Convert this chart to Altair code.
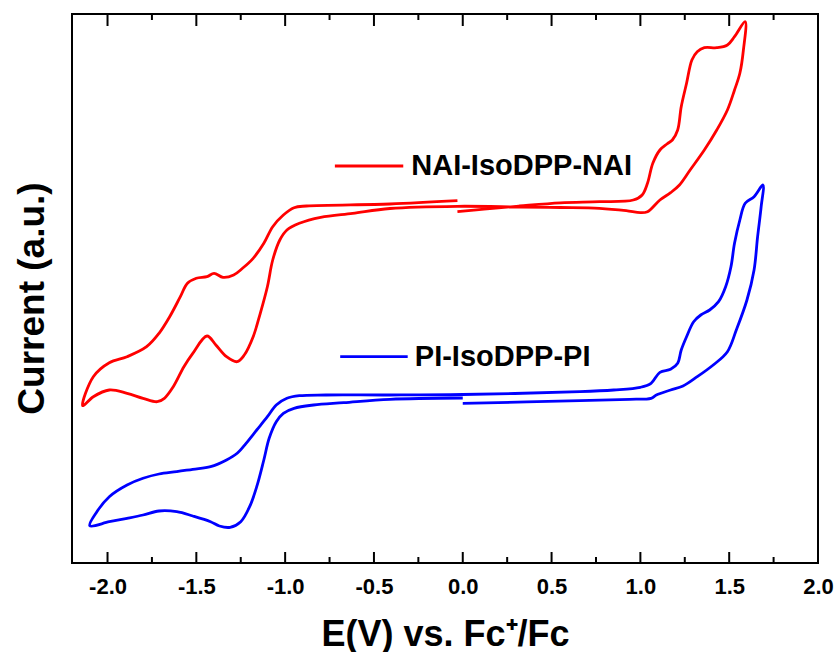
import altair as alt
import pandas as pd

# ---- data (E in V vs Fc+/Fc, current in a.u.) ----
red_E = [-0.03, 0.12, 0.32, 0.55, 0.77, 0.96, 1.01, 1.04, 1.07, 1.11, 1.15, 1.18, 1.21, 1.23,
         1.26, 1.29, 1.32, 1.36, 1.43, 1.49, 1.53, 1.59,
         1.58, 1.56, 1.53, 1.49, 1.43, 1.36, 1.28, 1.22, 1.17, 1.11, 1.04, 1.00, 0.92, 0.77,
         0.55, 0.32, -0.03, -0.41, -0.62, -0.80, -0.92, -0.99, -1.03, -1.07, -1.10, -1.14,
         -1.18, -1.23, -1.27, -1.33, -1.39, -1.44, -1.52, -1.57, -1.63, -1.68, -1.72, -1.80,
         -1.89, -1.99, -2.08, -2.14,
         -2.08, -1.99, -1.89, -1.78, -1.71, -1.65, -1.59, -1.55, -1.50, -1.44, -1.40, -1.35,
         -1.29, -1.24, -1.18, -1.12, -1.07, -1.01, -0.95, -0.88, -0.41, -0.03]
red_I = [3.513, 3.538, 3.57, 3.602, 3.613, 3.63, 3.68, 3.797, 3.997, 4.13, 4.19, 4.23, 4.33, 4.563,
         4.797, 5.03, 5.113, 5.153, 5.153, 5.18, 5.263, 5.413,
         5.13, 4.897, 4.73, 4.53, 4.33, 4.13, 3.93, 3.78, 3.703, 3.63, 3.513, 3.503, 3.523, 3.547,
         3.555, 3.56, 3.567, 3.545, 3.497, 3.457, 3.397, 3.33, 3.23, 3.03, 2.763, 2.497,
         2.263, 2.08, 2.013, 2.063, 2.18, 2.27, 2.097, 1.963, 1.763, 1.647, 1.613, 1.647,
         1.697, 1.73, 1.663, 1.573,
         1.863, 2.003, 2.063, 2.163, 2.297, 2.463, 2.663, 2.797, 2.847, 2.863, 2.897, 2.857,
         2.88, 2.947, 3.047, 3.197, 3.363, 3.48, 3.553, 3.57, 3.59, 3.623]

blue_E = [0.00, -0.41, -0.67, -0.84, -0.95, -1.01, -1.05, -1.09, -1.12, -1.16, -1.20, -1.25,
          -1.31, -1.37, -1.42, -1.52, -1.61, -1.71, -1.80, -1.89, -1.99, -2.10,
          -2.06, -1.99, -1.89, -1.80, -1.71, -1.61, -1.52, -1.42, -1.33, -1.27, -1.22, -1.16,
          -1.10, -1.05, -0.99, -0.92, -0.77, -0.41, 0.00, 0.66, 0.85, 1.00, 1.06, 1.11, 1.17,
          1.21, 1.23, 1.26, 1.30, 1.34, 1.39, 1.44, 1.48, 1.51, 1.53, 1.56, 1.59, 1.64, 1.69,
          1.68, 1.66, 1.64, 1.60, 1.54, 1.49, 1.41, 1.32, 1.24, 1.17, 1.09, 1.06, 0.94, 0.66, 0.00]
blue_I = [1.65, 1.637, 1.603, 1.58, 1.547, 1.497, 1.413, 1.247, 1.03, 0.763, 0.563, 0.413,
          0.357, 0.37, 0.413, 0.47, 0.513, 0.52, 0.48, 0.447, 0.413, 0.373,
          0.513, 0.663, 0.78, 0.847, 0.89, 0.913, 0.937, 0.963, 1.03, 1.097, 1.197, 1.33,
          1.463, 1.58, 1.647, 1.673, 1.68, 1.68, 1.685, 1.713, 1.73, 1.757, 1.797, 1.907, 1.937,
          1.997, 2.13, 2.263, 2.413, 2.48, 2.53, 2.613, 2.763, 2.963, 3.197, 3.43, 3.597, 3.663, 3.78,
          3.563, 3.263, 2.93, 2.63, 2.33, 2.113, 1.98, 1.863, 1.77, 1.73, 1.68, 1.647, 1.637, 1.623, 1.597]

series_names = ["NAI-IsoDPP-NAI", "PI-IsoDPP-PI"]
series_colors = ["#FF0000", "#0000FF"]

major_ticks = [-2.0, -1.5, -1.0, -0.5, 0.0, 0.5, 1.0, 1.5, 2.0]
minor_ticks = [-1.75, -1.25, -0.75, -0.25, 0.25, 0.75, 1.25, 1.75]

# in-plot legend anchors (data units)
legend_line_E1 = [-0.72, -0.69]
legend_line_E2 = [-0.335, -0.31]
legend_line_I = [3.97, 2.063]
legend_text_E = [-0.29, -0.27]
legend_text_I = [3.88, 1.97]

FONT = "Liberation Sans"
W, H = 746, 549

rows = []
for name, Es, Is in [(series_names[0], red_E, red_I), (series_names[1], blue_E, blue_I)]:
    for k, (e, i) in enumerate(zip(Es, Is)):
        rows.append({"series": name, "E": e, "I": i, "idx": k})
df = pd.DataFrame(rows)

xscale = alt.Scale(domain=[-2.2, 2.0], nice=False, zero=False)
yscale = alt.Scale(domain=[0, 5.49], nice=False, zero=False)
cscale = alt.Scale(domain=series_names, range=series_colors)

x_axis = alt.Axis(
    values=major_ticks, ticks=False, domain=False, grid=False,
    labelFont=FONT, labelFontWeight="bold", labelFontSize=22, labelColor="black",
    labelBaseline="alphabetic", labelPadding=30, labelOverlap=False, labelFlush=False,
    labelBound=False,
    labelExpr="(datum.value < 0 ? '-' : '') + format(abs(datum.value), '.1f')",
    title="E(V) vs. Fc\u207a/Fc", titleFont=FONT, titleFontWeight="bold", titleFontSize=36,
    titleColor="black", titleBaseline="alphabetic", titleY=82,
)
y_axis = alt.Axis(
    labels=False, ticks=False, domain=False, grid=False,
    title="Current (a.u.)", titleFont=FONT, titleFontWeight="bold", titleFontSize=37,
    titleColor="black", titleAngle=270, titleBaseline="alphabetic", titleAlign="center",
    titleX=-29, titleY=284,
)

X = lambda f: alt.X(f, type="quantitative", scale=xscale, axis=x_axis)
Y = lambda f: alt.Y(f, type="quantitative", scale=yscale, axis=y_axis)

lines = alt.Chart(df).mark_line(strokeWidth=2.8, strokeJoin="round", interpolate="catmull-rom").encode(
    x=X("E"),
    y=Y("I"),
    color=alt.Color("series:N", scale=cscale, legend=None),
    detail="series:N",
    order=alt.Order("idx:Q"),
)

def tick_layer(vals, y1, y2):
    return alt.Chart(pd.DataFrame({"E": vals})).mark_rule(color="black", strokeWidth=2).encode(
        x=X("E"),
        y=alt.value(y1), y2=alt.value(y2),
    )

ticks = [
    tick_layer(major_ticks, H, H - 11),
    tick_layer(major_ticks, 0, 12),
    tick_layer(minor_ticks, H, H - 6),
    tick_layer(minor_ticks, 0, 6),
]

leg_line_df = pd.DataFrame({"series": series_names, "E": legend_line_E1,
                            "E2": legend_line_E2, "I": legend_line_I})
leg_text_df = pd.DataFrame({"series": series_names, "E": legend_text_E, "I": legend_text_I})

leg_lines = alt.Chart(leg_line_df).mark_rule(strokeWidth=2.8).encode(
    x=X("E"), x2="E2:Q",
    y=Y("I"),
    color=alt.Color("series:N", scale=cscale, legend=None),
)
leg_text = alt.Chart(leg_text_df).mark_text(
    align="left", baseline="alphabetic", font=FONT, fontWeight="bold", fontSize=29, color="black"
).encode(
    x=X("E"),
    y=Y("I"),
    text="series:N",
)

chart = alt.layer(lines, *ticks, leg_lines, leg_text).properties(
    width=W, height=H,
    autosize=alt.AutoSizeParams(type="none"),
    padding={"left": 72, "top": 14, "right": 19, "bottom": 89},
    background="white",
).configure_view(stroke="black", strokeWidth=2)

chart.save("out.html", embed_options={"renderer": "svg", "actions": False})
